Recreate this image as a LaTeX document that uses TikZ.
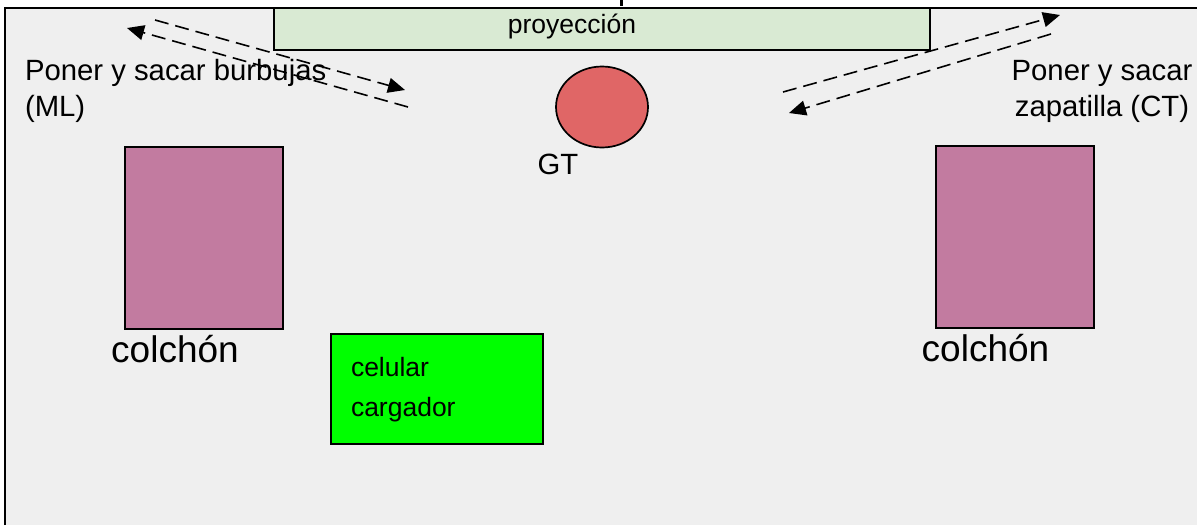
\documentclass[tikz,border=0pt]{standalone}
\usepackage{fontspec}
\setmainfont{Liberation Sans}
\usetikzlibrary{positioning, arrows.meta, shapes.geometric}
\definecolor{sala}{HTML}{EFEFEF}
\definecolor{pantalla}{HTML}{D9EAD3}
\definecolor{persona}{HTML}{E06666}
\definecolor{cama}{HTML}{C27BA0}
\tikzset{
    x=1pt, y=-1pt,
    every node/.style={inner sep=0pt, outer sep=0pt}, % sizes below are the whole box
    mueble/.style={draw, line width=1.7pt, anchor=north west},
    colchon/.style={mueble, fill=cama, minimum width=158pt, minimum height=182pt},
    rotulo/.style={font=\fontsize{29.3}{36}\selectfont, align=center},
    chico/.style={font=\fontsize{26.5}{32}\selectfont},
    grande/.style={font=\fontsize{37}{40}\selectfont},
    recorrido/.style={-{Stealth[length=17pt, width=15pt, inset=0pt]}, line width=1.6pt, dash pattern=on 14pt off 7pt},
}
\begin{document}
\begin{tikzpicture}
    \useasboundingbox (0,0) rectangle (1197,525);
    \fill[sala] (5,8) rectangle (1197,525);
    \draw[line width=1.7pt] (5,525) -- (5,8) -- (1197,8);
    \draw[line width=3pt] (621,0) -- (621,6);

    \node[mueble, fill=pantalla, minimum width=656pt, minimum height=42pt] (proy) at (274,8) {};
    \node[chico] (proytxt) at (572,26) {proyección};
    \node[draw, ellipse, line width=1.7pt, fill=persona, minimum width=92pt, minimum height=81pt] (gt) at (602,107) {};
    \node[rotulo] (gttxt) at (558,164) {GT};

    \node[colchon] (cama1) at (125,147) {};
    \node[colchon] (cama2) at (936,146) {};
    \node[grande] (cama1txt) at (175,349) {colchón};
    \node[grande] (cama2txt) at (985.5,348) {colchón};

    \node[mueble, fill=green, minimum width=212pt, minimum height=110pt] (carga) at (331,334) {};
    \node[chico, anchor=base west] (celular) at (351,376) {celular};
    \node[chico, anchor=base west] (cargador) at (351,416) {cargador};

    \node[rotulo, align=left, anchor=west] (burbujas) at (25,91) {Poner y sacar burbujas\\(ML)};
    \node[rotulo] (zapatilla) at (1102,91) {Poner y sacar\\zapatilla (CT)};

    \coordinate (b1) at (155,20);
    \coordinate (b2) at (405,90);
    \coordinate (b3) at (408,107);
    \coordinate (b4) at (127,28);
    \coordinate (z1) at (783,92);
    \coordinate (z2) at (1060,15);
    \coordinate (z3) at (1051,34);
    \coordinate (z4) at (789,113);
    \draw[recorrido] (b1) -- (b2);
    \draw[recorrido] (b3) -- (b4);
    \draw[recorrido] (z1) -- (z2);
    \draw[recorrido] (z3) -- (z4);
\end{tikzpicture}
\end{document}
